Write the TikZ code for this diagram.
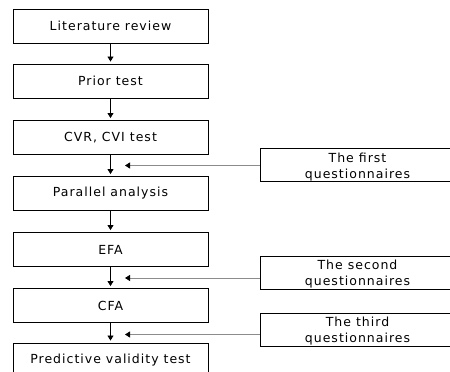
\documentclass[tikz,border=0pt]{standalone}
\usepackage{fontspec}
\setmainfont{DejaVu Sans}[LetterSpace=8]
\usetikzlibrary{arrows.meta,calc}
\tikzset{
  stepbox/.style={draw=black, line width=0.9pt, minimum width=195pt, minimum height=34pt, inner sep=0pt, font=\fontsize{12.5}{16}\selectfont},
  qbox/.style={draw=black, line width=0.9pt, minimum width=195pt, minimum height=33pt, inner sep=0pt},
  qtext/.style={align=center, inner sep=0pt, font=\fontsize{12.5}{16}\selectfont},
  flow/.style={draw=black, line width=0.8pt, -{Triangle[length=5pt,width=6pt]}, shorten >=2pt},
  fb/.style={draw=black!45, line width=0.8pt, -{Triangle[length=5pt,width=6pt,color=black]}}
}
\begin{document}
\begin{tikzpicture}[x=1pt,y=-1pt]
\useasboundingbox (0,0) rectangle (450,372);
\clip (0,0) rectangle (450,372);
\node[stepbox] (b1) at (110.5,26) {Literature review};
\node[stepbox] (b2) at (110.5,81) {Prior test};
\node[stepbox] (b3) at (110.5,137.5) {CVR, CVI test};
\node[stepbox] (b4) at (110.5,193.5) {Parallel analysis};
\node[stepbox] (b5) at (110.5,249.5) {EFA};
\node[stepbox] (b6) at (110.5,305.5) {CFA};
\node[stepbox] (b7) at (110.5,360) {Predictive validity test};
\draw[flow] (b1) -- (b2);
\draw[flow] (b2) -- (b3);
\draw[flow] (b3) -- (b4);
\draw[flow] (b4) -- (b5);
\draw[flow] (b5) -- (b6);
\draw[flow] (b6) -- (b7);
\node[qbox] (q1) at (357.5,165) {};
\node[qbox] (q2) at (357.5,272.5) {};
\node[qbox] (q3) at (357.5,329.5) {};
\node[qtext] (q1t) at (357.5,167) {The first\\questionnaires};
\node[qtext] (q2t) at (357.5,274.5) {The second\\questionnaires};
\node[qtext] (q3t) at (357.5,331.5) {The third\\questionnaires};
\coordinate (m1) at (125,165.5);
\coordinate (m2) at (125,278);
\coordinate (m3) at (125,334.5);
\draw[fb] (q1.west |- m1) -- (m1);
\draw[fb] (q2.west |- m2) -- (m2);
\draw[fb] (q3.west |- m3) -- (m3);
\end{tikzpicture}
\end{document}
